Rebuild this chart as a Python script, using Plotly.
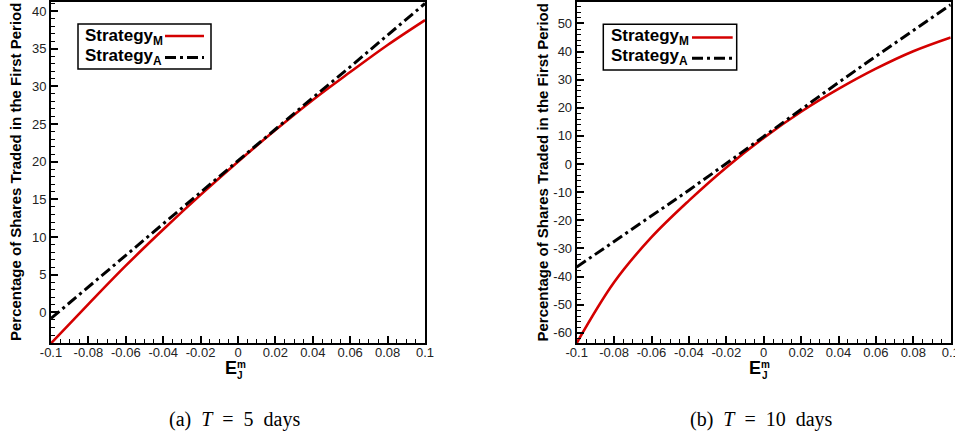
import plotly.graph_objects as go

# ---------------- data ----------------
x_vals = [-0.1, -0.08, -0.06, -0.04, -0.02, 0.0, 0.02, 0.04, 0.06, 0.08, 0.1]

# Panel (a): T = 5 days
a_strategy_m = [-4.1, 1.1, 6.2, 11.0, 15.6, 20.0, 24.2, 28.2, 31.9, 35.5, 38.8]
a_strategy_a = [-0.8, 3.4, 7.6, 11.7, 15.9, 20.1, 24.3, 28.5, 32.6, 36.8, 41.0]

# Panel (b): T = 10 days
b_strategy_m = [-63.6, -42.0, -26.0, -13.0, -1.2, 9.3, 18.6, 26.7, 33.9, 40.1, 45.0]
b_strategy_a = [-36.6, -27.6, -18.5, -9.3, 0.2, 9.8, 19.5, 29.0, 38.3, 47.5, 56.6]

x_tickvals = [-0.1, -0.08, -0.06, -0.04, -0.02, 0, 0.02, 0.04, 0.06, 0.08, 0.1]
x_ticktext = ["-0.1", "-0.08", "-0.06", "-0.04", "-0.02", "0", "0.02", "0.04", "0.06", "0.08", "0.1"]
a_y_tickvals = [0, 5, 10, 15, 20, 25, 30, 35, 40]
a_y_ticktext = ["0", "5", "10", "15", "20", "25", "30", "35", "40"]
b_y_tickvals = [-60, -50, -40, -30, -20, -10, 0, 10, 20, 30, 40, 50]
b_y_ticktext = ["-60", "-50", "-40", "-30", "-20", "-10", "0", "10", "20", "30", "40", "50"]

y_title = "Percentage of Shares Traded in the First Period"
captions = ["(a)&nbsp; <i>T</i>&nbsp; = &nbsp;5&nbsp; days", "(b)&nbsp; <i>T</i>&nbsp; = &nbsp;10&nbsp; days"]
legend_names = ["Strategy<sub>M</sub>", "Strategy<sub>A</sub>"]

# ---------------- styling ----------------
W, H = 955, 438
RED = "#d40000"
BLACK = "#000000"
DASH = "11px,4px,3px,4px"
SANS = "Liberation Sans, Arial, sans-serif"
SERIF = "Liberation Serif, Times New Roman, serif"


def px(x):
    return x / W


def py(y):
    return 1 - y / H


fig = go.Figure()

fig.add_trace(go.Scatter(x=x_vals, y=a_strategy_m, mode="lines", line=dict(color=RED, width=2.6, shape="spline"),
                         xaxis="x", yaxis="y", showlegend=False))
fig.add_trace(go.Scatter(x=x_vals, y=a_strategy_a, mode="lines", line=dict(color=BLACK, width=3, dash=DASH),
                         xaxis="x", yaxis="y", showlegend=False))
fig.add_trace(go.Scatter(x=x_vals, y=b_strategy_m, mode="lines", line=dict(color=RED, width=2.6, shape="spline"),
                         xaxis="x2", yaxis="y2", showlegend=False))
fig.add_trace(go.Scatter(x=x_vals, y=b_strategy_a, mode="lines", line=dict(color=BLACK, width=3, dash=DASH),
                         xaxis="x2", yaxis="y2", showlegend=False))

tickfont = dict(family=SANS, size=13, color="#222")


def xaxis_cfg(domain, anchor):
    return dict(domain=domain, anchor=anchor, range=[-0.1, 0.1], showline=True, mirror=True,
                linecolor="black", linewidth=2, ticks="inside", ticklen=7, tickwidth=1.5,
                tickcolor="black", tickvals=x_tickvals, ticktext=x_ticktext, showgrid=False,
                zeroline=False, tickfont=tickfont, ticklabeloverflow="allow", automargin=False,
                ticklabelstandoff=-4,
                minor=dict(dtick=0.005, tick0=0, ticks="inside", ticklen=4, tickwidth=1,
                           tickcolor="black", showgrid=False))


def yaxis_cfg(domain, anchor, rng, tv, tt, minor_dt):
    return dict(domain=domain, anchor=anchor, range=rng, showline=True, mirror=True,
                linecolor="black", linewidth=2, ticks="inside", ticklen=7, tickwidth=1.5,
                tickcolor="black", tickvals=tv, ticktext=tt, showgrid=False, zeroline=False,
                tickfont=tickfont, automargin=False,
                minor=dict(dtick=minor_dt, tick0=0, ticks="inside", ticklen=4, tickwidth=1,
                           tickcolor="black", showgrid=False))


ydom = [py(343.3), py(2)]
fig.update_layout(
    width=W, height=H,
    margin=dict(l=0, r=0, t=0, b=0, autoexpand=False),
    paper_bgcolor="white", plot_bgcolor="white",
    xaxis=xaxis_cfg([px(51), px(425)], "y"),
    yaxis=yaxis_cfg(ydom, "x", [-4.1, 41.2], a_y_tickvals, a_y_ticktext, 1),
    xaxis2=xaxis_cfg([px(576.7), px(950.7)], "y2"),
    yaxis2=yaxis_cfg(ydom, "x2", [-63.7, 57.6], b_y_tickvals, b_y_ticktext, 2),
)

annotations = []
shapes = []

panels = [
    dict(ytitle_x=15.5, e_x=230.8, sub_x=241.2, cap_x=234.7,
         box=(78, 24, 211, 69), text_x=83, line_x=(165, 204), rows=(36.5, 56.5), line_y=(36, 57.5)),
    dict(ytitle_x=542, e_x=755, sub_x=765.3, cap_x=761,
         box=(603.3, 24.3, 736.7, 70), text_x=609, line_x=(692, 732.7), rows=(37, 57), line_y=(37.5, 58.3)),
]

for i, p in enumerate(panels):
    # y-axis title
    annotations.append(dict(text=f"<b>{y_title}</b>", x=px(p["ytitle_x"]), y=py(172.5), xref="paper", yref="paper",
                            textangle=-90, showarrow=False, xanchor="center", yanchor="middle",
                            font=dict(family=SANS, size=15, color="black")))
    # x-axis title E_J^m
    annotations.append(dict(text="<b>E</b>", x=px(p["e_x"]), y=py(367.5), xref="paper", yref="paper",
                            showarrow=False, xanchor="center", yanchor="middle", borderpad=0,
                            font=dict(family=SANS, size=18, color="black")))
    annotations.append(dict(text="<b>m</b>", x=px(p["sub_x"]), y=py(364), xref="paper", yref="paper",
                            showarrow=False, xanchor="center", yanchor="middle", borderpad=0,
                            font=dict(family=SANS, size=10, color="black")))
    annotations.append(dict(text="<b>J</b>", x=px(p["sub_x"] - 0.8), y=py(375.5), xref="paper", yref="paper",
                            showarrow=False, xanchor="center", yanchor="middle", borderpad=0,
                            font=dict(family=SANS, size=10, color="black")))
    # caption
    annotations.append(dict(text=captions[i], x=px(p["cap_x"]), y=py(419), xref="paper", yref="paper",
                            showarrow=False, xanchor="center", yanchor="middle",
                            font=dict(family=SERIF, size=20, color="black")))
    # legend box
    x0, y0, x1, y1 = p["box"]
    shapes.append(dict(type="rect", xref="paper", yref="paper", x0=px(x0), x1=px(x1), y0=py(y0), y1=py(y1),
                       line=dict(color="black", width=1.5), fillcolor="white", layer="above"))
    for j, (name, color, dash, w) in enumerate([(legend_names[0], RED, "solid", 2.6),
                                                 (legend_names[1], BLACK, DASH, 3)]):
        annotations.append(dict(text=f"<b>{name}</b>", x=px(p["text_x"]), y=py(p["rows"][j]), xref="paper",
                                yref="paper", showarrow=False, xanchor="left", yanchor="middle",
                                font=dict(family=SANS, size=17, color="black")))
        shapes.append(dict(type="line", xref="paper", yref="paper", x0=px(p["line_x"][0]), x1=px(p["line_x"][1]),
                           y0=py(p["line_y"][j]), y1=py(p["line_y"][j]), line=dict(color=color, width=w, dash=dash),
                           layer="above"))

fig.update_layout(annotations=annotations, shapes=shapes)
fig.write_html("out.html", config={"displayModeBar": False},
               post_script="document.body.style.margin='0px';document.body.style.overflow='hidden';")
